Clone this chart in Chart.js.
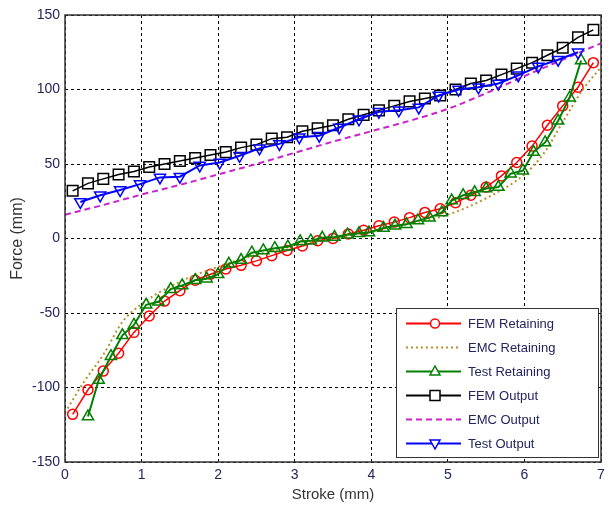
<!DOCTYPE html>
<html>
<head>
<meta charset="utf-8">
<script src="https://cdn.jsdelivr.net/npm/chart.js@4.4.1/dist/chart.umd.min.js"></script>
<style>
    html, body { margin: 0; padding: 0; background: #fff; }
    #wrap { width: 610px; height: 505px; }
</style>
</head>
<body>
<div id="wrap"><canvas id="graficoFuerza" width="610" height="505"></canvas></div>
<script>
// valores
const femX = [0.1, 0.3, 0.5, 0.7, 0.9, 1.1, 1.3, 1.5, 1.7, 1.9, 2.1, 2.3, 2.5, 2.7, 2.9, 3.1, 3.3, 3.5,
    3.7, 3.9, 4.1, 4.3, 4.5, 4.7, 4.9, 5.1, 5.3, 5.5, 5.7, 5.9, 6.1, 6.3, 6.5, 6.7, 6.9];
const femRetaining = [-118, -101.5, -89, -77, -63, -52, -42, -35, -28, -24, -20.5, -18, -15, -11.5, -8, -5, -1.5, 0,
    3, 5.5, 8.5, 11, 14, 17.5, 20, 24, 29, 34.5, 42, 51, 62, 76, 89, 101.5, 118];
const femOutput = [32, 37, 40, 43, 45, 48, 50, 52, 54, 56, 58, 61, 63, 67, 68, 72, 74, 76,
    80, 83, 86, 89, 92, 94, 96, 100, 104, 106, 110, 114, 118, 123, 128, 135, 140];

const emcRetX = [0, 0.25, 0.5, 0.75, 1, 1.5, 2, 2.5, 3, 3.5, 4, 4.5, 5, 5.5, 6, 6.25, 6.5, 6.75, 7];
const emcRetaining = [-117, -96, -78, -56, -44, -29, -19, -11, -5, 0, 5, 10, 16, 27, 43, 57, 78, 99, 115];

const emcOutX = [0, 0.5, 1, 1.5, 2, 2.5, 3, 3.5, 4, 4.5, 5, 5.5, 6, 6.5, 7];
const emcOutput = [16, 22.5, 29.5, 36, 43, 50, 57.5, 65, 72, 79, 87, 97.5, 109, 120, 131];

const testRetX = [0.3, 0.44, 0.6, 0.75, 0.9, 1.06, 1.22, 1.38, 1.53, 1.7, 1.85, 2.0, 2.14, 2.3, 2.44,
    2.59, 2.74, 2.91, 3.07, 3.21, 3.36, 3.52, 3.69, 3.84, 3.97, 4.16, 4.31, 4.46, 4.61, 4.76, 4.92,
    5.05, 5.2, 5.35, 5.5, 5.66, 5.82, 5.98, 6.12, 6.27, 6.44, 6.59, 6.74];
const testRetaining = [-119.5, -95, -79, -65, -58, -44.5, -42.5, -34, -31.5, -28, -27, -24, -17, -14.5, -9.5,
    -8, -6.5, -5.5, -2, -1.5, 0.5, 1, 2.5, 3.5, 4, 7, 8.5, 9.5, 12, 14, 17.5,
    25.5, 29, 31, 33.5, 34.5, 43.5, 45.5, 58, 64.5, 79, 94.5, 119.5];

const testOutX = [0.2, 0.46, 0.72, 0.98, 1.24, 1.5, 1.76, 2.02, 2.28, 2.54, 2.8, 3.06, 3.32, 3.58,
    3.84, 4.1, 4.36, 4.62, 4.88, 5.14, 5.4, 5.66, 5.92, 6.18, 6.44, 6.7];
const testOutput = [24.5, 29, 32.5, 36.5, 41, 41.5, 49, 51, 55.5, 60.5, 63.5, 68, 69, 74.5,
    80, 85, 86, 88, 96, 100, 101.5, 104, 109.5, 115.5, 120, 125];

const xTicks = [0, 1, 2, 3, 4, 5, 6, 7];
const yTicks = [-150, -100, -50, 0, 50, 100, 150];

const toPoints = (xs, ys) => xs.map((x, i) => ({ x: x, y: ys[i] }));

const textColor = '#24245e';

// leyenda dibujada dentro del area, como en MATLAB
const legendBox = {
    id: 'legendBox',
    afterDraw(chart) {
        const ctx = chart.ctx;
        const area = chart.chartArea;
        const w = 202, h = 149;
        const left = area.right - 3 - w;
        const top = area.bottom - 5 - h;
        ctx.save();
        ctx.fillStyle = '#fff';
        ctx.fillRect(left, top, w, h);
        ctx.strokeStyle = '#333';
        ctx.lineWidth = 1;
        ctx.strokeRect(left + 0.5, top + 0.5, w, h);

        chart.data.datasets.forEach((ds, i) => {
            const y = top + 15.5 + i * 24;
            const x0 = left + 10, x1 = left + 65, xm = left + 39;
            ctx.strokeStyle = ds.borderColor;
            ctx.lineWidth = 2;
            ctx.setLineDash(ds.borderDash || []);
            ctx.beginPath();
            ctx.moveTo(x0, y);
            ctx.lineTo(x1, y);
            ctx.stroke();
            ctx.setLineDash([]);
            ctx.lineWidth = 1.5;
            ctx.fillStyle = '#fff';
            ctx.beginPath();
            if (ds.pointStyle === 'circle') {
                ctx.arc(xm, y, 4.5, 0, Math.PI * 2);
            } else if (ds.pointStyle === 'rect') {
                ctx.rect(xm - 5, y - 5, 10, 10);
            } else if (ds.pointStyle === 'triangle') {
                const s = ds.pointRotation === 180 ? -1 : 1;
                ctx.moveTo(xm, y - s * 5.5);
                ctx.lineTo(xm - 5, y + s * 3.5);
                ctx.lineTo(xm + 5, y + s * 3.5);
                ctx.closePath();
            }
            if (ds.pointRadius > 0) {
                ctx.fill();
                ctx.stroke();
            }
            ctx.fillStyle = textColor;
            ctx.font = '13px Arial, "Liberation Sans", sans-serif';
            ctx.textAlign = 'left';
            ctx.textBaseline = 'middle';
            ctx.fillText(ds.label, left + 72, y + 0.5);
        });

        // marco de los ejes
        ctx.strokeStyle = '#333';
        ctx.lineWidth = 1.5;
        ctx.strokeRect(area.left, area.top, area.right - area.left, area.bottom - area.top);
        ctx.restore();
    }
};

const ctx = document.getElementById('graficoFuerza').getContext('2d');
new Chart(ctx, {
    type: 'line',
    data: {
        datasets: [{
            label: 'FEM Retaining',
            data: toPoints(femX, femRetaining),
            borderColor: '#ff0000',
            borderWidth: 1.5,
            pointStyle: 'circle',
            pointRadius: 5,
            pointBorderWidth: 1.5,
            pointBackgroundColor: 'rgba(0,0,0,0)',
            order: 6
        }, {
            label: 'EMC Retaining',
            data: toPoints(emcRetX, emcRetaining),
            borderColor: '#b8902a',
            borderWidth: 2,
            borderDash: [2, 3],
            pointRadius: 0,
            tension: 0.4,
            cubicInterpolationMode: 'monotone',
            order: 5
        }, {
            label: 'Test Retaining',
            data: toPoints(testRetX, testRetaining),
            borderColor: '#008000',
            borderWidth: 2,
            pointStyle: 'triangle',
            pointRadius: 6.5,
            pointBorderWidth: 1.5,
            pointBackgroundColor: 'rgba(0,0,0,0)',
            order: 4
        }, {
            label: 'FEM Output',
            data: toPoints(femX, femOutput),
            borderColor: '#000000',
            borderWidth: 1.5,
            pointStyle: 'rect',
            pointRadius: 7.5,
            pointBorderWidth: 1.5,
            pointBackgroundColor: 'rgba(0,0,0,0)',
            order: 3
        }, {
            label: 'EMC Output',
            data: toPoints(emcOutX, emcOutput),
            borderColor: '#cc22cc',
            borderWidth: 2,
            borderDash: [6, 4],
            pointRadius: 0,
            tension: 0.4,
            cubicInterpolationMode: 'monotone',
            order: 2
        }, {
            label: 'Test Output',
            data: toPoints(testOutX, testOutput),
            borderColor: '#0000ff',
            borderWidth: 2,
            pointStyle: 'triangle',
            pointRotation: 180,
            pointRadius: 6.5,
            pointBorderWidth: 1.5,
            pointBackgroundColor: 'rgba(0,0,0,0)',
            order: 1
        }]
    },
    options: {
        responsive: false,
        animation: false,
        clip: false,
        layout: { padding: { top: 15, right: 3, bottom: 0, left: 0 } },
        plugins: {
            legend: { display: false },
            tooltip: { enabled: false }
        },
        scales: {
            x: {
                type: 'linear',
                min: 0,
                max: 7,
                afterFit: scale => { scale.height = 43; },
                afterBuildTicks: scale => { scale.ticks = xTicks.map(v => ({ value: v })); },
                ticks: {
                    color: textColor,
                    padding: 5,
                    font: { family: 'Arial, "Liberation Sans", sans-serif', size: 14 }
                },
                grid: { color: '#000', lineWidth: 1, drawTicks: false },
                border: { display: false, dash: [3, 3] },
                title: {
                    display: true,
                    text: 'Stroke (mm)',
                    color: '#333',
                    padding: { top: 0, bottom: 1 },
                    font: { family: 'Arial, "Liberation Sans", sans-serif', size: 15 }
                }
            },
            y: {
                type: 'linear',
                min: -150,
                max: 150,
                afterFit: scale => { scale.width = 65; },
                afterBuildTicks: scale => { scale.ticks = yTicks.map(v => ({ value: v })); },
                ticks: {
                    color: textColor,
                    padding: 5,
                    font: { family: 'Arial, "Liberation Sans", sans-serif', size: 14 }
                },
                grid: { color: '#000', lineWidth: 1, drawTicks: false },
                border: { display: false, dash: [3, 3] },
                title: {
                    display: true,
                    text: 'Force (mm)',
                    color: '#333',
                    padding: { top: 8, bottom: 0 },
                    font: { family: 'Arial, "Liberation Sans", sans-serif', size: 16 }
                }
            }
        }
    },
    plugins: [legendBox]
});
</script>
</body>
</html>
